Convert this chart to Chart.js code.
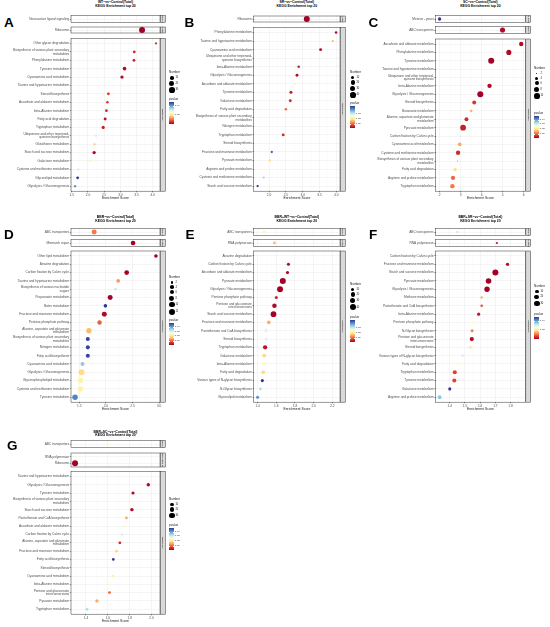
<!DOCTYPE html>
<html>
<head>
<meta charset="utf-8">
<script src="https://cdn.jsdelivr.net/npm/chart.js@4.4.1/dist/chart.umd.min.js"></script>
<style>
  html, body { margin: 0; padding: 0; background: #fff; }
  body { width: 550px; height: 627px; position: relative; overflow: hidden; font-family: "Liberation Sans", Arial, sans-serif; }
  canvas { position: absolute; }
  .letter { position: absolute; font-weight: bold; font-size: 13.5px; line-height: 13.5px; color: #000; }
  .title { position: absolute; font-weight: bold; font-size: 3.4px; line-height: 3.9px; text-align: center; white-space: nowrap; transform: translateX(-50%); color: #000; }
  .lg { position: absolute; white-space: nowrap; color: #222; }
  .dot { position: absolute; border-radius: 50%; background: #000; }
</style>
</head>
<body>
<script>
// ---- data ----
const facetsA = ['Environmental Information Processing', 'Genetic Information Processing', 'Metabolism'];
const termsA = ['Neuroactive ligand signaling', 'Ribosome', 'Other glycan degradation',
  'Biosynthesis of various plant secondary metabolites', 'Phenylalanine metabolism', 'Tyrosine metabolism',
  'Cyanoamino acid metabolism', 'Taurine and hypotaurine metabolism', 'Steroid biosynthesis',
  'Ascorbate and aldarate metabolism', 'beta-Alanine metabolism', 'Fatty acid degradation', 'Tryptophan metabolism',
  'Ubiquinone and other terpenoid-quinone biosynthesis', 'Glutathione metabolism', 'Starch and sucrose metabolism',
  'Galactose metabolism', 'Cysteine and methionine metabolism', 'Glycerolipid metabolism', 'Glycolysis / Gluconeogenesis'];
const groupA = [0, 1, 2, 2, 2, 2, 2, 2, 2, 2, 2, 2, 2, 2, 2, 2, 2, 2, 2, 2];
const scoreA = [2.40, 3.67, 4.10, 3.43, 3.42, 3.13, 3.05, 3.02, 2.63, 2.60, 2.57, 2.53, 2.47, 2.25, 2.20, 2.19, 2.06, 1.70, 1.68, 1.60];
const countA = [2, 34, 4, 6, 6, 11, 9, 3, 6, 5, 6, 7, 8, 3, 5, 9, 4, 3, 6, 5];
const pA = [0.026, 0.001, 0.006, 0.005, 0.004, 0.002, 0.002, 0.024, 0.006, 0.006, 0.005, 0.003, 0.004, 0.031, 0.019, 0.002, 0.023, 0.032, 0.048, 0.040];
const xTicksA = [1.5, 2.0, 2.5, 3.0, 3.5, 4.0];
const sizeBreaksA = [10, 20, 30];
const pBreaksA = [0.02, 0.04];

const facetsB = ['Genetic Information Processing', 'Metabolism'];
const termsB = ['Ribosome', 'Phenylalanine metabolism', 'Taurine and hypotaurine metabolism', 'Cyanoamino acid metabolism',
  'Ubiquinone and other terpenoid-quinone biosynthesis', 'beta-Alanine metabolism', 'Glycolysis / Gluconeogenesis',
  'Ascorbate and aldarate metabolism', 'Tyrosine metabolism', 'Galactose metabolism', 'Fatty acid degradation',
  'Biosynthesis of various plant secondary metabolites', 'Nitrogen metabolism', 'Tryptophan metabolism', 'Steroid biosynthesis',
  'Fructose and mannose metabolism', 'Pyruvate metabolism', 'Arginine and proline metabolism',
  'Cysteine and methionine metabolism', 'Starch and sucrose metabolism'];
const groupB = [0, 1, 1, 1, 1, 1, 1, 1, 1, 1, 1, 1, 1, 1, 1, 1, 1, 1, 1, 1];
const scoreB = [3.12, 3.99, 3.89, 3.53, 2.88, 2.88, 2.83, 2.76, 2.65, 2.63, 2.50, 2.49, 2.49, 2.42, 2.28, 2.08, 2.02, 1.94, 1.84, 1.66];
const countB = [45, 6, 4, 8, 2, 6, 8, 3, 9, 8, 6, 3, 3, 8, 2, 5, 6, 3, 5, 5];
const pB = [0.001, 0.002, 0.016, 0.002, 0.027, 0.004, 0.002, 0.021, 0.004, 0.005, 0.010, 0.028, 0.028, 0.005, 0.027, 0.044, 0.020, 0.025, 0.034, 0.048];
const xTicksB = [2.0, 2.5, 3.0, 3.5, 4.0];
const sizeBreaksB = [10, 20, 30, 40];
const pBreaksB = [0.01, 0.02, 0.03];

const facetsC = ['Cellular Processes', 'Environmental Information Processing', 'Metabolism'];
const termsC = ['Meiosis - yeast', 'ABC transporters', 'Ascorbate and aldarate metabolism', 'Phenylalanine metabolism',
  'Tyrosine metabolism', 'Taurine and hypotaurine metabolism', 'Ubiquinone and other terpenoid-quinone biosynthesis',
  'beta-Alanine metabolism', 'Glycolysis / Gluconeogenesis', 'Steroid biosynthesis', 'Butanoate metabolism',
  'Alanine, aspartate and glutamate metabolism', 'Pyruvate metabolism', 'Carbon fixation by Calvin cycle',
  'Cyanoamino acid metabolism', 'Cysteine and methionine metabolism', 'Biosynthesis of various plant secondary metabolites',
  'Fatty acid degradation', 'Arginine and proline metabolism', 'Tryptophan metabolism'];
const groupC = [0, 1, 2, 2, 2, 2, 2, 2, 2, 2, 2, 2, 2, 2, 2, 2, 2, 2, 2, 2];
const scoreC = [2.00, 5.00, 5.89, 5.30, 4.46, 4.40, 4.40, 4.38, 3.94, 3.65, 3.50, 3.28, 3.12, 2.99, 2.96, 2.88, 2.86, 2.74, 2.64, 2.61];
const countC = [4, 8, 6, 8, 11, 2, 2, 6, 11, 5, 3, 5, 10, 2, 5, 6, 2, 4, 6, 6];
const pC = [0.048, 0.002, 0.002, 0.002, 0.001, 0.024, 0.027, 0.002, 0.001, 0.006, 0.016, 0.005, 0.004, 0.032, 0.015, 0.005, 0.042, 0.020, 0.010, 0.011];
const xTicksC = [2, 3, 4, 5, 6];
const sizeBreaksC = [2, 4, 6, 8, 10];
const pBreaksC = [0.01, 0.02, 0.03, 0.04];

const facetsD = ['Environmental Information Processing', 'Genetic Information Processing', 'Metabolism'];
const termsD = ['ABC transporters', 'Mismatch repair', 'Other lipid metabolism', 'Atrazine degradation',
  'Carbon fixation by Calvin cycle', 'Taurine and hypotaurine metabolism', 'Biosynthesis of various nucleotide sugars',
  'Propanoate metabolism', 'Biotin metabolism', 'Fructose and mannose metabolism', 'Pentose phosphate pathway',
  'Alanine, aspartate and glutamate metabolism', 'Biosynthesis of various plant secondary metabolites',
  'Nitrogen metabolism', 'Fatty acid biosynthesis', 'Cyanoamino acid metabolism', 'Glycolysis / Gluconeogenesis',
  'Glycerophospholipid metabolism', 'Cysteine and methionine metabolism', 'Tyrosine metabolism'];
const groupD = [0, 1, 2, 2, 2, 2, 2, 2, 2, 2, 2, 2, 2, 2, 2, 2, 2, 2, 2, 2];
const scoreD = [1.78, 2.51, 2.94, 2.87, 2.39, 2.23, 2.18, 2.08, 1.99, 1.97, 1.88, 1.68, 1.66, 1.66, 1.66, 1.56, 1.54, 1.52, 1.52, 1.42];
const countD = [8, 7, 4, 1, 7, 4, 2, 8, 4, 8, 6, 9, 5, 5, 5, 5, 12, 10, 10, 10];
const pD = [0.012, 0.002, 0.002, 0.028, 0.002, 0.014, 0.032, 0.002, 0.048, 0.003, 0.010, 0.017, 0.047, 0.047, 0.047, 0.036, 0.020, 0.023, 0.023, 0.042];
const xTicksD = [1.5, 2.0, 2.5, 3.0];
const sizeBreaksD = [2, 4, 6, 8, 10, 12];
const pBreaksD = [0.01, 0.02, 0.03, 0.04];

const facetsE = ['Environmental Information Processing', 'Genetic Information Processing', 'Metabolism'];
const termsE = ['ABC transporters', 'RNA polymerase', 'Atrazine degradation', 'Carbon fixation by Calvin cycle',
  'Ascorbate and aldarate metabolism', 'Pyruvate metabolism', 'Glycolysis / Gluconeogenesis', 'Pentose phosphate pathway',
  'Pentose and glucuronate interconversions', 'Starch and sucrose metabolism', 'Fructose and mannose metabolism',
  'Pantothenate and CoA biosynthesis', 'Steroid biosynthesis', 'Tryptophan metabolism', 'Galactose metabolism',
  'beta-Alanine metabolism', 'Fatty acid degradation', 'Various types of N-glycan biosynthesis',
  'N-Glycan biosynthesis', 'Glycerolipid metabolism'];
const groupE = [0, 1, 2, 2, 2, 2, 2, 2, 2, 2, 2, 2, 2, 2, 2, 2, 2, 2, 2, 2];
const scoreE = [1.47, 1.58, 2.24, 1.73, 1.72, 1.67, 1.64, 1.60, 1.58, 1.57, 1.52, 1.49, 1.49, 1.48, 1.47, 1.47, 1.46, 1.45, 1.43, 1.40];
const countE = [6, 6, 1, 8, 8, 40, 38, 8, 20, 35, 12, 6, 6, 18, 12, 10, 12, 8, 7, 8];
const pE = [0.023, 0.016, 0.028, 0.002, 0.002, 0.001, 0.001, 0.005, 0.002, 0.001, 0.015, 0.030, 0.030, 0.003, 0.019, 0.023, 0.019, 0.048, 0.033, 0.041];
const xTicksE = [1.4, 1.6, 1.8, 2.0, 2.2];
const sizeBreaksE = [10, 20, 30, 40];
const pBreaksE = [0.01, 0.02, 0.03];

const facetsF = ['Environmental Information Processing', 'Genetic Information Processing', 'Metabolism'];
const termsF = ['ABC transporters', 'RNA polymerase', 'Carbon fixation by Calvin cycle', 'Fructose and mannose metabolism',
  'Starch and sucrose metabolism', 'Pyruvate metabolism', 'Glycolysis / Gluconeogenesis', 'Methane metabolism',
  'Pantothenate and CoA biosynthesis', 'beta-Alanine metabolism', 'Pentose phosphate pathway', 'N-Glycan biosynthesis',
  'Pentose and glucuronate interconversions', 'Steroid biosynthesis', 'Various types of N-glycan biosynthesis',
  'Fatty acid degradation', 'Tryptophan metabolism', 'Tyrosine metabolism', 'Galactose metabolism',
  'Arginine and proline metabolism'];
const groupF = [0, 1, 2, 2, 2, 2, 2, 2, 2, 2, 2, 2, 2, 2, 2, 2, 2, 2, 2, 2];
const scoreF = [1.45, 1.71, 1.87, 1.78, 1.70, 1.655, 1.645, 1.61, 1.61, 1.59, 1.555, 1.547, 1.545, 1.535, 1.485, 1.458, 1.433, 1.43, 1.40, 1.333];
const countF = [3, 3, 1, 8, 36, 30, 28, 4, 4, 7, 4, 7, 15, 6, 3, 4, 14, 14, 7, 12];
const pF = [0.032, 0.003, 0.028, 0.002, 0.001, 0.001, 0.001, 0.016, 0.008, 0.003, 0.024, 0.012, 0.002, 0.021, 0.031, 0.024, 0.007, 0.007, 0.048, 0.036];
const xTicksF = [1.4, 1.5, 1.6, 1.7, 1.8, 1.9];
const sizeBreaksF = [10, 20, 30];
const pBreaksF = [0.02, 0.04];

const facetsG = ['Environmental Information Processing', 'Genetic Information Processing', 'Metabolism'];
const termsG = ['ABC transporters', 'RNA polymerase', 'Ribosome', 'Taurine and hypotaurine metabolism',
  'Glycolysis / Gluconeogenesis', 'Tyrosine metabolism', 'Biosynthesis of various plant secondary metabolites',
  'Starch and sucrose metabolism', 'Pantothenate and CoA biosynthesis', 'Ascorbate and aldarate metabolism',
  'Carbon fixation by Calvin cycle', 'Alanine, aspartate and glutamate metabolism', 'Fructose and mannose metabolism',
  'Fatty acid biosynthesis', 'Steroid biosynthesis', 'Cyanoamino acid metabolism', 'beta-Alanine metabolism',
  'Pentose and glucuronate interconversions', 'Pyruvate metabolism', 'Tryptophan metabolism'];
const groupG = [0, 1, 1, 2, 2, 2, 2, 2, 2, 2, 2, 2, 2, 2, 2, 2, 2, 2, 2, 2];
const scoreG = [1.62, 1.31, 1.30, 2.04, 1.97, 1.83, 1.82, 1.82, 1.77, 1.755, 1.73, 1.71, 1.68, 1.65, 1.65, 1.645, 1.62, 1.615, 1.50, 1.41];
const countG = [3, 2, 38, 1, 10, 8, 3, 10, 6, 3, 3, 6, 6, 5, 1, 5, 3, 6, 9, 6];
const pG = [0.024, 0.027, 0.001, 0.026, 0.002, 0.002, 0.024, 0.002, 0.015, 0.023, 0.031, 0.005, 0.019, 0.048, 0.027, 0.022, 0.024, 0.010, 0.015, 0.033];
const xTicksG = [1.4, 1.6, 1.8, 2.0];
const sizeBreaksG = [10, 20, 30];
const pBreaksG = [0.01, 0.02, 0.03, 0.04];

// ---- layout ----
const FONT = '"Liberation Sans", Arial, sans-serif';
const colX = [0, 183, 366];
const plotL = [71, 253.7, 435.5];
const plotR = [160, 340, 525.3];
const legX = [169, 350, 534];
const rowTop = [14, 226.7, 439.3];
const rowBottom = [190, 401.7, 614];
const titleTop = [0.6, 216.3, 430.5];
const STRIP = 4.8, GAP = 1.3, AXIS_H = 9.8;
const R_MAX = 3.0;
const ramp = ['#A50026', '#D73027', '#F46D43', '#FDAE61', '#FEE090', '#FFFFBF',
  '#E0F3F8', '#ABD9E9', '#74ADD1', '#4575B4', '#313695'];

const panels = [
  { key: 'A', title: 'WT~vs~Control(Total)', terms: termsA, group: groupA, score: scoreA, count: countA, p: pA, facets: facetsA, xTicks: xTicksA, sizes: sizeBreaksA, pTicks: pBreaksA, col: 0, row: 0, letter: [4, 15.5], leg: [73, 100] },
  { key: 'B', title: 'SR~vs~Control(Total)', terms: termsB, group: groupB, score: scoreB, count: countB, p: pB, facets: facetsB, xTicks: xTicksB, sizes: sizeBreaksB, pTicks: pBreaksB, col: 1, row: 0, letter: [184.5, 15.5], leg: [72.7, 104] },
  { key: 'C', title: 'SC~vs~Control(Total)', terms: termsC, group: groupC, score: scoreC, count: countC, p: pC, facets: facetsC, xTicks: xTicksC, sizes: sizeBreaksC, pTicks: pBreaksC, col: 2, row: 0, letter: [368.5, 15.5], leg: [69, 114] },
  { key: 'D', title: 'BBR~vs~Control(Total)', terms: termsD, group: groupD, score: scoreD, count: countD, p: pD, facets: facetsD, xTicks: xTicksD, sizes: sizeBreaksD, pTicks: pBreaksD, col: 0, row: 1, letter: [4, 228.2], leg: [277.7, 321] },
  { key: 'E', title: 'BBR+WT~vs~Control(Total)', terms: termsE, group: groupE, score: scoreE, count: countE, p: pE, facets: facetsE, xTicks: xTicksE, sizes: sizeBreaksE, pTicks: pBreaksE, col: 1, row: 1, letter: [185.5, 228.2], leg: [284.3, 318] },
  { key: 'F', title: 'BBR+SR~vs~Control(Total)', terms: termsF, group: groupF, score: scoreF, count: countF, p: pF, facets: facetsF, xTicks: xTicksF, sizes: sizeBreaksF, pTicks: pBreaksF, col: 2, row: 1, letter: [369, 228.2], leg: [286.7, 315] },
  { key: 'G', title: 'BBR+SC~vs~Control(Total)', terms: termsG, group: groupG, score: scoreG, count: countG, p: pG, facets: facetsG, xTicks: xTicksG, sizes: sizeBreaksG, pTicks: pBreaksG, col: 0, row: 2, letter: [7, 439], leg: [499.3, 526] }
];

function hexToRgb(h) {
  return [parseInt(h.slice(1, 3), 16), parseInt(h.slice(3, 5), 16), parseInt(h.slice(5, 7), 16)];
}

function rampColor(t) {
  t = Math.max(0, Math.min(1, t)) * (ramp.length - 1);
  const i = Math.min(Math.floor(t), ramp.length - 2);
  const f = t - i;
  const a = hexToRgb(ramp[i]), b = hexToRgb(ramp[i + 1]);
  const c = a.map((v, k) => Math.round(v + (b[k] - v) * f));
  return 'rgb(' + c.join(',') + ')';
}

function wrapLabel(s) {
  if (s.length <= 38) return s;
  const cut = s.slice(0, 40);
  let k = cut.lastIndexOf('-');
  if (k > 20) return [s.slice(0, k + 1), s.slice(k + 1)];
  k = cut.lastIndexOf(' ');
  return [s.slice(0, k), s.slice(k + 1)];
}

const facetFrame = {
  id: 'facetFrame',
  afterDraw(chart, args, opts) {
    const a = chart.chartArea, ctx = chart.ctx;
    ctx.save();
    ctx.strokeStyle = '#333';
    ctx.lineWidth = 0.5;
    ctx.strokeRect(a.left, a.top, a.right - a.left, a.bottom - a.top);
    const sx = a.right + 0.5;
    ctx.fillStyle = '#D9D9D9';
    ctx.fillRect(sx, a.top, STRIP, a.bottom - a.top);
    ctx.strokeRect(sx, a.top, STRIP, a.bottom - a.top);
    ctx.beginPath();
    ctx.rect(sx, a.top, STRIP, a.bottom - a.top);
    ctx.clip();
    ctx.translate(sx + STRIP / 2, (a.top + a.bottom) / 2);
    ctx.rotate(Math.PI / 2);
    ctx.font = '2.4px ' + FONT;
    ctx.fillStyle = '#1A1A1A';
    ctx.textAlign = 'center';
    ctx.textBaseline = 'middle';
    ctx.fillText(opts.strip, 0, 0);
    ctx.restore();
  }
};

function addDiv(cls, css, text) {
  const d = document.createElement('div');
  d.className = cls;
  Object.assign(d.style, css);
  if (text !== undefined) d.textContent = text;
  document.body.appendChild(d);
  return d;
}

function buildPanel(P) {
  const cx = colX[P.col];
  const lo = Math.min(...P.score), hi = Math.max(...P.score);
  const xMin = lo - 0.05 * (hi - lo), xMax = hi + 0.05 * (hi - lo);
  const nLo = Math.min(...P.count), nHi = Math.max(...P.count);
  const pLo = Math.min(...P.p), pHi = Math.max(...P.p);
  const radius = n => R_MAX * (1 / 6 + 5 / 6 * Math.sqrt(Math.max(0, (n - nLo) / (nHi - nLo))));
  const pColor = p => rampColor((p - pLo) / (pHi - pLo));

  const step = P.xTicks[1] - P.xTicks[0];
  const dec = Number.isInteger(step) ? 0 : 1;
  const xList = [];
  for (let v = P.xTicks[0] - step / 2; v <= xMax + 1e-9; v += step / 2) {
    if (v >= xMin) xList.push(Math.round(v * 1000) / 1000);
  }
  const isMajor = v => P.xTicks.some(t => Math.abs(t - v) < 1e-6);

  // title and letter
  const tdiv = addDiv('title', { left: (plotL[P.col] + plotR[P.col]) / 2 + 'px', top: titleTop[P.row] + 'px' });
  tdiv.innerHTML = P.title + '<br>KEGG Enrichment top 20';
  addDiv('letter', { left: P.letter[0] + 'px', top: P.letter[1] + 'px' }, P.key);

  const rows = P.facets.map((_, f) => P.terms.map((t, i) => i).filter(i => P.group[i] === f));
  const top = rowTop[P.row], bottom = rowBottom[P.row];
  const units = rows.reduce((s, r) => s + r.length + 0.2, 0);
  const u = (bottom - top - GAP * (rows.length - 1)) / units;

  let y = top;
  rows.forEach((idx, f) => {
    const h = (idx.length + 0.2) * u;
    const last = f === rows.length - 1;
    const W = Math.round(plotR[P.col] + STRIP + 1.5 - cx);
    const H = Math.round(h + 2 + (last ? AXIS_H : 0));
    const cv = document.createElement('canvas');
    cv.width = W; cv.height = H;
    cv.style.left = cx + 'px';
    cv.style.top = (y - 1) + 'px';
    cv.style.width = W + 'px';
    cv.style.height = H + 'px';
    document.body.appendChild(cv);

    new Chart(cv, {
      type: 'bubble',
      data: {
        datasets: [{
          data: idx.map((i, k) => ({ x: P.score[i], y: k, r: radius(P.count[i]) })),
          backgroundColor: idx.map(i => pColor(P.p[i])),
          borderWidth: 0,
          hoverRadius: 0
        }]
      },
      options: {
        responsive: false,
        animation: false,
        events: [],
        layout: { padding: { top: 1, bottom: last ? 0 : 1, left: 0, right: W - (plotR[P.col] - cx) } },
        plugins: { legend: { display: false }, tooltip: { enabled: false }, facetFrame: { strip: P.facets[f] } },
        scales: {
          x: {
            type: 'linear', min: xMin, max: xMax,
            afterBuildTicks: s => { s.ticks = xList.map(v => ({ value: v })); },
            afterFit: s => { s.height = last ? AXIS_H : 0; },
            border: { display: false },
            grid: {
              color: c => isMajor(c.tick.value) ? '#EBEBEB' : '#F4F4F4',
              lineWidth: c => isMajor(c.tick.value) ? 0.5 : 0.3,
              drawTicks: last, tickLength: 1.2,
              tickColor: c => isMajor(c.tick.value) ? '#333' : 'rgba(0,0,0,0)'
            },
            ticks: {
              display: last, autoSkip: false, maxRotation: 0, padding: 0.3,
              font: { size: 3.2, family: FONT }, color: '#4D4D4D',
              callback: v => isMajor(v) ? v.toFixed(dec) : ''
            },
            title: { display: last, text: 'Enrichment Score', font: { size: 3.4, family: FONT }, color: '#1A1A1A', padding: { top: 0.2, bottom: 0.4 } }
          },
          y: {
            type: 'linear', reverse: true, min: -0.6, max: idx.length - 0.4,
            afterBuildTicks: s => { s.ticks = idx.map((_, k) => ({ value: k })); },
            afterFit: s => { s.width = plotL[P.col] - cx; },
            border: { display: false },
            grid: { color: '#EBEBEB', lineWidth: 0.5, drawTicks: true, tickLength: 1.2, tickColor: '#333' },
            ticks: {
              autoSkip: false, padding: 0.7,
              font: { size: 3.2, family: FONT, lineHeight: 1.1 }, color: '#4D4D4D',
              callback: v => wrapLabel(P.terms[idx[v]])
            }
          }
        }
      },
      plugins: [facetFrame]
    });
    y += h + GAP;
  });

  // size legend
  const lx = legX[P.col];
  addDiv('lg', { left: lx + 'px', top: (P.leg[0] - 1.8) + 'px', fontSize: '3.1px', lineHeight: '3.6px' }, 'Number');
  let yy = P.leg[0] + 2.6;
  P.sizes.forEach(b => {
    const r = radius(b);
    const sp = Math.max(4.4, 2 * r + 1.2);
    const cy = yy + sp / 2;
    addDiv('dot', { left: (lx + 2.8 - r) + 'px', top: (cy - r) + 'px', width: 2 * r + 'px', height: 2 * r + 'px' });
    addDiv('lg', { left: (lx + 6.4) + 'px', top: (cy - 1.5) + 'px', fontSize: '2.6px', lineHeight: '3px' }, String(b));
    yy += sp;
  });

  // colour bar legend
  addDiv('lg', { left: lx + 'px', top: (P.leg[1] - 1.8) + 'px', fontSize: '3.1px', lineHeight: '3.6px' }, 'pvalue');
  const barTop = P.leg[1] + 2.4, barH = 22, barW = 4.6;
  const stops = ramp.map((c, i) => c + ' ' + (i * 10) + '%').join(',');
  addDiv('lg', { left: lx + 'px', top: barTop + 'px', width: barW + 'px', height: barH + 'px', background: 'linear-gradient(to top,' + stops + ')' });
  P.pTicks.forEach(v => {
    if (v < pLo || v > pHi) return;
    const ty = barTop + barH - (v - pLo) / (pHi - pLo) * barH;
    addDiv('lg', { left: lx + 'px', top: (ty - 0.15) + 'px', width: '1px', height: '0.3px', background: '#fff' });
    addDiv('lg', { left: (lx + barW - 1) + 'px', top: (ty - 0.15) + 'px', width: '1px', height: '0.3px', background: '#fff' });
    addDiv('lg', { left: (lx + barW + 1.2) + 'px', top: (ty - 1.4) + 'px', fontSize: '2.5px', lineHeight: '2.8px' }, v.toFixed(2));
  });
}

panels.forEach(buildPanel);
</script>
</body>
</html>
